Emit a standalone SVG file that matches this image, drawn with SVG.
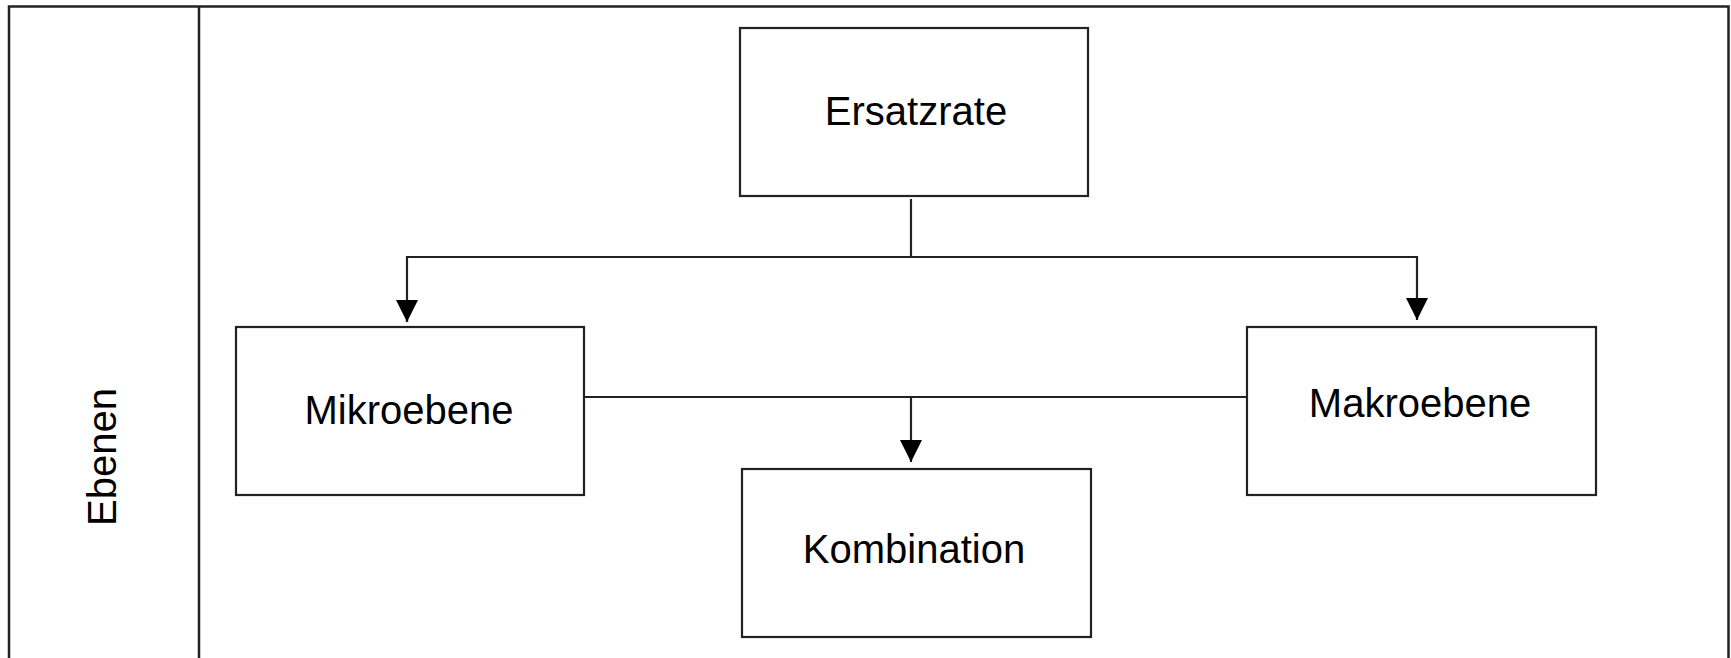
<svg xmlns="http://www.w3.org/2000/svg" width="1731" height="658" viewBox="0 0 1731 658">
<defs>
<style>
.box{fill:#fff;stroke:#222;stroke-width:2.2}
.frame{fill:none;stroke:#222;stroke-width:2.5}
.line{fill:none;stroke:#222;stroke-width:2.2}
.lbl{font-family:"Liberation Sans",Arial,sans-serif;font-size:40px;fill:#000;text-anchor:middle}
</style>
<marker id="arr" viewBox="0 0 22 22" refX="22" refY="11" markerWidth="22" markerHeight="22" markerUnits="userSpaceOnUse" orient="auto">
<path d="M0,0 L22,11 L0,22 Z" fill="#000"/>
</marker>
</defs>
<rect width="1731" height="658" fill="#fff"/>
<g id="frame">
<path class="frame" d="M9,660 V6.5 H1728.5 V660"/>
<line class="frame" x1="199" y1="6.5" x2="199" y2="660"/>
<text class="lbl" transform="translate(116,457) rotate(-90)">Ebenen</text>
</g>
<g id="connectors">
<line class="line" x1="911" y1="199" x2="911" y2="257"/>
<path class="line" d="M407,322 V257 H1417 V320" marker-end="url(#arr)"/>
<line class="line" x1="407" y1="300" x2="407" y2="322" marker-end="url(#arr)"/>
<line class="line" x1="584" y1="397" x2="1247" y2="397"/>
<line class="line" x1="911" y1="397" x2="911" y2="462" marker-end="url(#arr)"/>
</g>
<g id="ersatzrate">
<rect class="box" x="740" y="28" width="348" height="168"/>
<text class="lbl" x="916" y="125">Ersatzrate</text>
</g>
<g id="mikroebene">
<rect class="box" x="236" y="327" width="348" height="168"/>
<text class="lbl" x="409" y="424">Mikroebene</text>
</g>
<g id="makroebene">
<rect class="box" x="1247" y="327" width="349" height="168"/>
<text class="lbl" x="1420" y="417">Makroebene</text>
</g>
<g id="kombination">
<rect class="box" x="742" y="469" width="349" height="168"/>
<text class="lbl" x="914" y="563">Kombination</text>
</g>
</svg>
